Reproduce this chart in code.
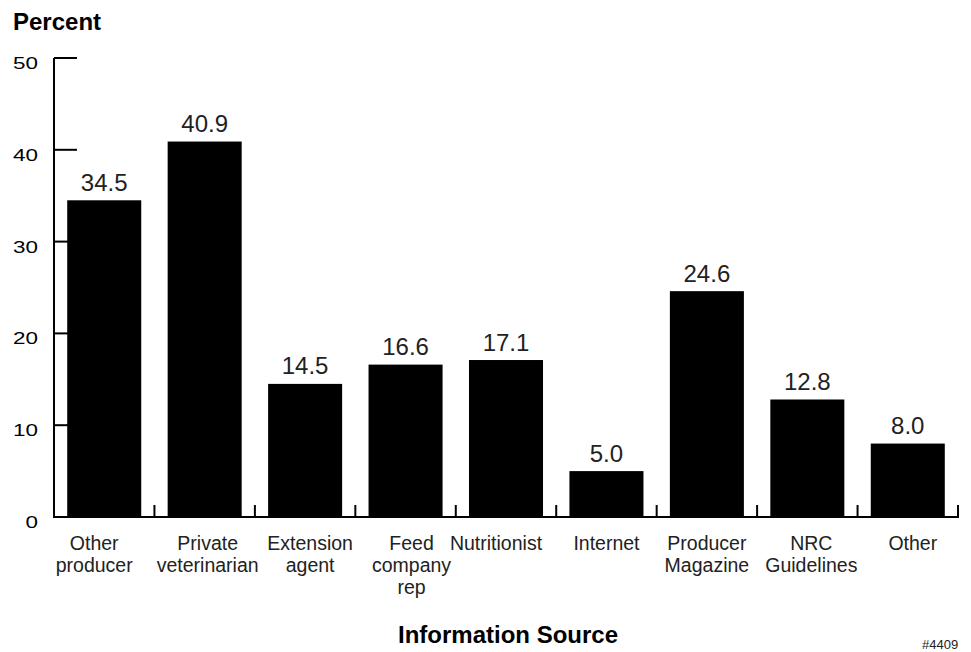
<!DOCTYPE html>
<html>
<head>
<meta charset="utf-8">
<script src="https://cdn.jsdelivr.net/npm/d3@7"></script>
<style>
  body { margin: 0; background: #fff; }
  text { font-family: 'Liberation Sans', Arial, sans-serif; }
</style>
</head>
<body>
<div id="chart"></div>
<script>
const categories = [
  'Other producer', 'Private veterinarian', 'Extension agent', 'Feed company rep',
  'Nutritionist', 'Internet', 'Producer Magazine', 'NRC Guidelines', 'Other'
];
const categoryLines = [
  ['Other', 'producer'], ['Private', 'veterinarian'], ['Extension', 'agent'],
  ['Feed', 'company', 'rep'], ['Nutritionist'], ['Internet'],
  ['Producer', 'Magazine'], ['NRC', 'Guidelines'], ['Other']
];
const percents = [34.5, 40.9, 14.5, 16.6, 17.1, 5.0, 24.6, 12.8, 8.0];
const yTicks = [0, 10, 20, 30, 40, 50];

// small horizontal nudges for label blocks, as in the original layout
const labelNudge = {
  'Other producer': -10, 'Private veterinarian': 3, 'Extension agent': 5,
  'Feed company rep': 6, 'Nutritionist': -10, 'NRC Guidelines': 4, 'Other': 5
};

const width = 971;
const height = 652;
const margin = { top: 58, right: 13, bottom: 135, left: 54 };

const svg = d3
  .select('#chart')
  .append('svg')
  .attr('width', width)
  .attr('height', height);

const xScale = d3
  .scaleBand()
  .domain(categories)
  .range([margin.left, width - margin.right])
  .paddingInner(0.263)
  .paddingOuter(0.1315);

const yScale = d3
  .scaleLinear()
  .domain([0, 50])
  .range([height - margin.bottom, margin.top]);

const baseY = yScale(0);

// y axis: ticks point inward, under the bars
const yAxis = svg.append('g').attr('class', 'y-axis');
yAxis
  .append('line')
  .attr('x1', margin.left)
  .attr('x2', margin.left)
  .attr('y1', yScale(50))
  .attr('y2', baseY)
  .style('stroke', '#000')
  .style('stroke-width', 2);
yAxis
  .selectAll('.ytick')
  .data(yTicks.filter((d) => d > 0))
  .enter()
  .append('line')
  .attr('x1', margin.left)
  .attr('x2', margin.left + 23)
  .attr('y1', (d) => yScale(d))
  .attr('y2', (d) => yScale(d))
  .style('stroke', '#000')
  .style('stroke-width', 2);
yAxis
  .selectAll('.ylabel')
  .data(yTicks)
  .enter()
  .append('text')
  .attr('transform', (d) => `translate(38,${yScale(d) + 11}) scale(1.32,1)`)
  .style('text-anchor', 'end')
  .style('font-size', '17px')
  .style('fill', '#000')
  .text((d) => d);

// bars
svg
  .selectAll('.bar')
  .data(percents)
  .enter()
  .append('rect')
  .attr('class', 'bar')
  .attr('x', (d, i) => xScale(categories[i]))
  .attr('y', (d) => yScale(d))
  .attr('width', xScale.bandwidth())
  .attr('height', (d) => baseY - yScale(d))
  .style('fill', '#000');

// x axis with boundary ticks pointing up
const step = xScale.step();
const x0 = xScale(categories[0]) - xScale.paddingOuter() * step;
const xAxis = svg.append('g').attr('class', 'x-axis');
xAxis
  .append('line')
  .attr('x1', margin.left - 1)
  .attr('x2', x0 + categories.length * step + 1)
  .attr('y1', baseY)
  .attr('y2', baseY)
  .style('stroke', '#000')
  .style('stroke-width', 2);
xAxis
  .selectAll('.xtick')
  .data(d3.range(1, categories.length + 1))
  .enter()
  .append('line')
  .attr('x1', (k) => x0 + k * step)
  .attr('x2', (k) => x0 + k * step)
  .attr('y1', baseY)
  .attr('y2', baseY - 12)
  .style('stroke', '#000')
  .style('stroke-width', 2);

// value labels
svg
  .selectAll('.value')
  .data(percents)
  .enter()
  .append('text')
  .attr('class', 'value')
  .attr('x', (d, i) => xScale(categories[i]) + xScale.bandwidth() / 2)
  .attr('y', (d) => yScale(d) - 9.5)
  .style('text-anchor', 'middle')
  .style('font-size', '24px')
  .style('fill', '#222')
  .text((d) => d.toFixed(1));

// category labels
const catGroups = svg
  .selectAll('.cat')
  .data(categories)
  .enter()
  .append('text')
  .attr('class', 'cat')
  .attr('transform', (d) => `translate(${xScale(d) + xScale.bandwidth() / 2 + (labelNudge[d] || 0)},${baseY + 33})`)
  .style('text-anchor', 'middle')
  .style('font-size', '19.5px')
  .style('fill', '#222');
catGroups
  .selectAll('tspan')
  .data((d, i) => categoryLines[i])
  .enter()
  .append('tspan')
  .attr('x', 0)
  .attr('dy', (d, j) => (j === 0 ? 0 : 22))
  .text((d) => d);

// titles
svg
  .append('text')
  .attr('x', 13)
  .attr('y', 30)
  .style('font-size', '24px')
  .style('font-weight', 'bold')
  .style('fill', '#000')
  .text('Percent');

svg
  .append('text')
  .attr('x', 508)
  .attr('y', 643)
  .style('text-anchor', 'middle')
  .style('font-size', '24px')
  .style('font-weight', 'bold')
  .style('fill', '#000')
  .text('Information Source');

svg
  .append('text')
  .attr('x', 922)
  .attr('y', 649)
  .style('font-size', '13px')
  .style('fill', '#222')
  .text('#4409');
</script>
</body>
</html>
